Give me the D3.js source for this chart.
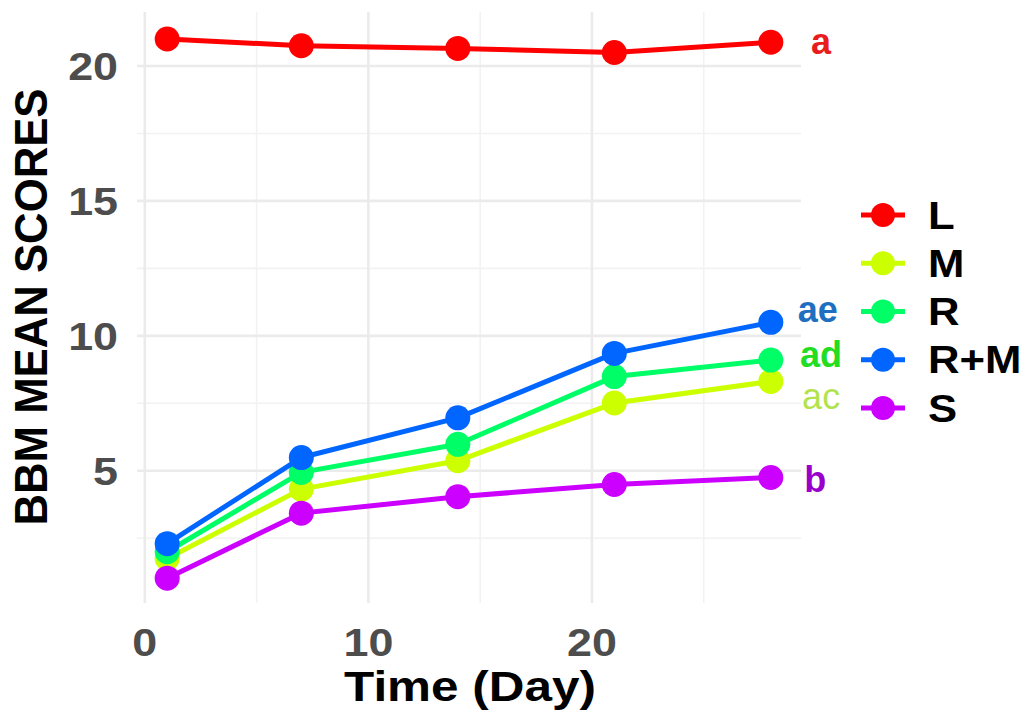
<!DOCTYPE html>
<html>
<head>
<meta charset="utf-8">
<script src="https://cdn.jsdelivr.net/npm/d3@7"></script>
<style>
  html, body { margin: 0; padding: 0; background: #ffffff; }
  svg { display: block; }
  text { font-family: "Liberation Sans", Arial, sans-serif; }
</style>
</head>
<body>
<svg id="chart" width="1029" height="713"></svg>
<script>
// Observation days and BBM mean scores per treatment group
const days = [1, 7, 14, 21, 28];
const groups = ["L", "M", "R", "R+M", "S"];
const scoresL  = [21.0, 20.75, 20.65, 20.5, 20.88];
const scoresM  = [1.75, 4.32, 5.37, 7.51, 8.31];
const scoresR  = [2.0, 4.94, 5.98, 8.49, 9.1];
const scoresRM = [2.3, 5.49, 6.96, 9.35, 10.5];
const scoresS  = [1.02, 3.43, 4.04, 4.49, 4.75];
const groupColors = ["#FF0000", "#CCFF00", "#00FF66", "#0066FF", "#CC00FF"];

// Letters of significance shown to the right of each series
const letterText  = ["a", "ae", "ad", "ac", "b"];
const letterDay   = [29.8, 29.2, 29.3, 29.4, 29.5];
const letterScore = [20.9, 10.95, 9.3, 7.75, 4.65];
const letterColors = ["#e81c1c", "#1f6fc0", "#22dd22", "#b2e34e", "#9a00cc"];
const letterWeights = ["bold", "600", "bold", "normal", "bold"];

const xTicks = [0, 10, 20];
const yTicks = [5, 10, 15, 20];
const xMinor = [5, 15, 25];
const yMinor = [2.5, 7.5, 12.5, 17.5];

const series = [scoresL, scoresM, scoresR, scoresRM, scoresS];

const svg = d3.select("#chart");
const stretch = 1.15; // horizontal stretch applied to the lettering

const panel = { left: 137, right: 801, top: 12, bottom: 603 };

const x = d3.scaleLinear().domain([-0.35, 29.35]).range([panel.left, panel.right]);
const y = d3.scaleLinear().domain([0.1, 22.0]).range([panel.bottom, panel.top]);

// Grid
const grid = svg.append("g");
grid.selectAll(".ymin").data(yMinor).join("line")
  .attr("x1", panel.left).attr("x2", panel.right)
  .attr("y1", d => y(d)).attr("y2", d => y(d))
  .attr("stroke", "#f2f2f2").attr("stroke-width", 1.6);
grid.selectAll(".xmin").data(xMinor).join("line")
  .attr("y1", panel.top).attr("y2", panel.bottom)
  .attr("x1", d => x(d)).attr("x2", d => x(d))
  .attr("stroke", "#f2f2f2").attr("stroke-width", 1.6);
grid.selectAll(".ymaj").data(yTicks).join("line")
  .attr("x1", panel.left).attr("x2", panel.right)
  .attr("y1", d => y(d)).attr("y2", d => y(d))
  .attr("stroke", "#ebebeb").attr("stroke-width", 2.6);
grid.selectAll(".xmaj").data(xTicks).join("line")
  .attr("y1", panel.top).attr("y2", panel.bottom)
  .attr("x1", d => x(d)).attr("x2", d => x(d))
  .attr("stroke", "#ebebeb").attr("stroke-width", 2.6);

// Axis tick labels
const tickSize = 39;
svg.append("g").selectAll("text").data(xTicks).join("text")
  .attr("transform", d => `translate(${x(d)},656) scale(${stretch},1)`)
  .attr("text-anchor", "middle")
  .attr("font-size", tickSize).attr("font-weight", "bold")
  .attr("fill", "#4d4d4d")
  .text(d => d);
svg.append("g").selectAll("text").data(yTicks).join("text")
  .attr("transform", d => `translate(118,${y(d) + 14}) scale(${stretch},1)`)
  .attr("text-anchor", "end")
  .attr("font-size", tickSize).attr("font-weight", "bold")
  .attr("fill", "#4d4d4d")
  .text(d => d);

// Axis titles
svg.append("text")
  .attr("transform", `translate(470,701) scale(${stretch},1)`)
  .attr("text-anchor", "middle")
  .attr("font-size", 43).attr("font-weight", "bold").attr("fill", "#000")
  .text("Time (Day)");
svg.append("text")
  .attr("transform", `translate(47,307) scale(${stretch},1) rotate(-90)`)
  .attr("text-anchor", "middle")
  .attr("font-size", 40).attr("font-weight", "bold").attr("fill", "#000")
  .attr("textLength", 437).attr("lengthAdjust", "spacingAndGlyphs")
  .text("BBM MEAN SCORES");

// Lines and points
const line = d3.line().x((d, i) => x(days[i])).y(d => y(d));
const marks = svg.append("g");
series.forEach((vals, gi) => {
  const g = marks.append("g");
  g.append("path").datum(vals)
    .attr("d", line)
    .attr("fill", "none")
    .attr("stroke", groupColors[gi])
    .attr("stroke-width", 5)
    .attr("stroke-linejoin", "round");
  g.selectAll("circle").data(vals).join("circle")
    .attr("cx", (d, i) => x(days[i]))
    .attr("cy", d => y(d))
    .attr("r", 12.5)
    .attr("fill", groupColors[gi]);
});

// Significance letters
svg.append("g").selectAll("text").data(letterText).join("text")
  .attr("transform", (d, i) => `translate(${x(letterDay[i])},${y(letterScore[i]) + 12})`)
  .attr("font-family", "'Open Sans', 'Liberation Sans', sans-serif")
  .attr("font-size", 36)
  .attr("font-weight", (d, i) => letterWeights[i])
  .attr("fill", (d, i) => letterColors[i])
  .text(d => d);

// Legend
const legend = svg.append("g");
const legendY = d3.scalePoint().domain(groups).range([215, 408]);
groups.forEach((gname, gi) => {
  const cy = legendY(gname);
  legend.append("line")
    .attr("x1", 861).attr("x2", 905)
    .attr("y1", cy).attr("y2", cy)
    .attr("stroke", groupColors[gi]).attr("stroke-width", 5);
  legend.append("circle")
    .attr("cx", 883).attr("cy", cy).attr("r", 12)
    .attr("fill", groupColors[gi]);
  legend.append("text")
    .attr("transform", `translate(928,${cy + 13.5}) scale(${stretch},1)`)
    .attr("font-size", 38).attr("font-weight", "bold").attr("fill", "#000")
    .text(gname);
});
</script>
</body>
</html>
